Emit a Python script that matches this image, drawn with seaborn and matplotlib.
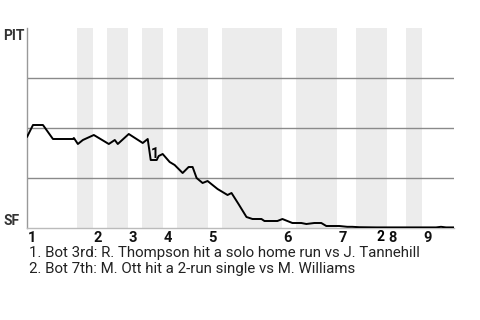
import matplotlib
matplotlib.use("Agg")
import matplotlib.pyplot as plt
import matplotlib.transforms as mtransforms
import seaborn as sns
import pandas as pd

# Game progress (play units) and PIT win probability (%)
progress = [0, 6, 16, 26, 46, 47, 51, 56, 67, 82, 88, 91, 102, 116, 121, 124, 130, 132,
            136, 143, 148, 156, 162, 166, 170, 176, 181, 191, 201, 205, 212, 220, 226,
            235, 238, 251, 256, 266, 275, 280, 288, 295, 300, 313, 321, 326, 333, 350,
            410, 415, 420, 428]
pit_wp = [45.5, 51.5, 51.5, 44.5, 44.5, 45, 42, 44, 46.5, 42, 44, 42, 47, 42.5, 44.5, 34, 34, 36,
          37, 33, 31.5, 27.5, 30.5, 30.5, 25, 22.5, 23.5, 19.5, 16.5, 17.5, 12, 5.5, 4.5,
          4.5, 3.5, 3.5, 4.5, 2.5, 2.5, 2, 2.5, 2.5, 1, 1, 0.6, 0.6, 0.4, 0.3,
          0.3, 0.6, 0.3, 0.3]

innings = ["1", "2", "3", "4", "5", "6", "7", "8", "9"]
inning_start = [0, 66, 101, 136, 181, 256, 311, 361, 396]
bottom_start = [50, 80, 115, 150, 195, 270, 330, 380]
bottom_end = [66, 101, 136, 181, 256, 311, 361, 396]
game_end = 428

note_ids = ["1", "2"]
note_x = [128, 354]
note_y = [37, -4.5]
notes = ["1. Bot 3rd: R. Thompson hit a solo home run vs J. Tannehill",
         "2. Bot 7th: M. Ott hit a 2-run single vs M. Williams"]

sns.set_theme(style="white")
plt.rcParams['font.family'] = ['Roboto', 'DejaVu Sans']

W, H = 480, 320
fig = plt.figure(figsize=(4.8, 3.2), dpi=100)
left, right, top, bottom = 27, 454, 28, 228
ax = fig.add_axes([left / W, (H - bottom) / H, (right - left) / W, (bottom - top) / H])

for s, e in zip(bottom_start, bottom_end):
    ax.axvspan(s, e, color="#ececec", lw=0, zorder=0)

for yv in [25, 50, 75]:
    ax.axhline(yv, color="#8a8a8a", lw=1, zorder=1)

df = pd.DataFrame({"progress": progress, "wp": pit_wp})
sns.lineplot(data=df, x="progress", y="wp", ax=ax, color="black", lw=1.4, zorder=3)

ax.set_xlim(0, game_end)
ax.set_ylim(0, 100)
ax.set_xticks([])
ax.set_yticks([])
ax.set_xlabel("")
ax.set_ylabel("")
for sp in ["top", "right"]:
    ax.spines[sp].set_visible(False)
ax.spines["left"].set_color("#999999")
ax.spines["bottom"].set_color("#bbbbbb")
ax.spines["left"].set_linewidth(1)
ax.spines["bottom"].set_linewidth(1)

for nid, nx, ny in zip(note_ids, note_x, note_y):
    ax.text(nx, ny, nid, fontsize=10, fontweight="bold", color="black",
            ha="center", va="center", zorder=4, clip_on=False)

trans = mtransforms.blended_transform_factory(ax.transData, fig.transFigure)
for lab, s in zip(innings, inning_start):
    ax.text(s + 1, 1 - 237.5 / H, lab, fontsize=10.5, fontweight="bold", color="#111111",
            ha="left", va="center", transform=trans, clip_on=False)

fig.text(3 / W, 1 - 29 / H, "PIT", fontsize=10, fontweight="bold", color="#333333",
         ha="left", va="top")
fig.text(3 / W, 1 - 225 / H, "SF", fontsize=10, fontweight="bold", color="#333333",
         ha="left", va="baseline")

for i, t in enumerate(notes):
    fig.text(29 / W, 1 - (252.5 + 17 * i) / H, t, fontsize=10.8, color="#222222",
             ha="left", va="center")

fig.savefig("out.png", dpi=100)
